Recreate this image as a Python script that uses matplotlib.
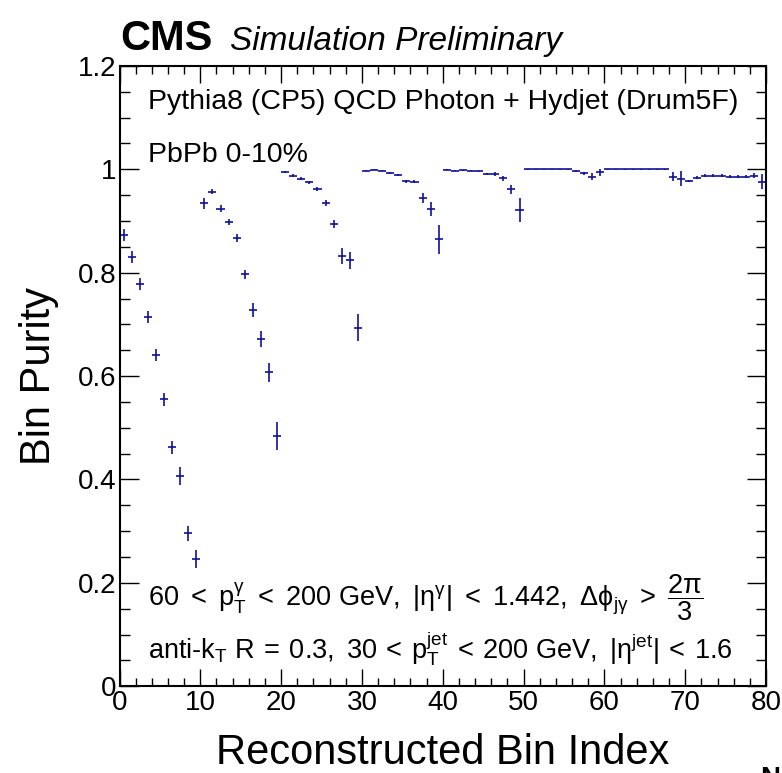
import numpy as np
import matplotlib
matplotlib.use("Agg")
import matplotlib.pyplot as plt
from matplotlib.ticker import MultipleLocator, FuncFormatter

plt.rcParams['font.family'] = ['Liberation Sans', 'DejaVu Sans']
plt.rcParams['mathtext.fontset'] = 'custom'
plt.rcParams['mathtext.rm'] = 'Liberation Sans'
plt.rcParams['mathtext.it'] = 'Liberation Sans:italic'
plt.rcParams['mathtext.bf'] = 'Liberation Sans:bold'

# reconstructed bin index (80 bins, width 1)
bin_index = np.arange(80)

purity = [
    0.873, 0.830, 0.778, 0.714, 0.641, 0.555, 0.462, 0.407, 0.296, 0.246,
    0.934, 0.957, 0.924, 0.898, 0.867, 0.797, 0.728, 0.672, 0.607, 0.485,
    0.994, 0.988, 0.982, 0.975, 0.962, 0.935, 0.894, 0.832, 0.824, 0.694,
    0.997, 0.999, 0.997, 0.992, 0.989, 0.977, 0.976, 0.944, 0.923, 0.865,
    0.999, 0.997, 0.998, 0.997, 0.996, 0.991, 0.991, 0.983, 0.961, 0.921,
    1.000, 1.000, 1.000, 1.000, 1.000, 1.000, 0.997, 0.992, 0.986, 0.994,
    1.000, 1.000, 1.000, 1.000, 1.000, 1.000, 1.000, 1.000, 0.986, 0.982,
    0.977, 0.984, 0.988, 0.988, 0.988, 0.986, 0.986, 0.986, 0.988, 0.976,
]

purity_err = [
    0.012, 0.012, 0.012, 0.011, 0.012, 0.012, 0.013, 0.018, 0.015, 0.017,
    0.010, 0.005, 0.006, 0.006, 0.007, 0.009, 0.013, 0.015, 0.019, 0.027,
    0.002, 0.002, 0.003, 0.003, 0.004, 0.006, 0.008, 0.015, 0.017, 0.026,
    0.001, 0.001, 0.001, 0.002, 0.002, 0.003, 0.003, 0.010, 0.014, 0.028,
    0.001, 0.001, 0.001, 0.001, 0.001, 0.002, 0.003, 0.005, 0.009, 0.023,
    0.0005, 0.0005, 0.0005, 0.0005, 0.0005, 0.0005, 0.002, 0.003, 0.006, 0.006,
    0.0005, 0.0005, 0.0005, 0.0005, 0.0005, 0.0005, 0.0005, 0.0005, 0.008, 0.0145,
    0.002, 0.003, 0.002, 0.002, 0.002, 0.003, 0.003, 0.003, 0.004, 0.0145,
]

W, H = 782, 773
fig = plt.figure(figsize=(W / 100, H / 100), dpi=100)
ax = fig.add_axes([119.5 / W, 1 - 686.3 / H, (766 - 119.5) / W, (686.3 - 65.9) / H])

ax.errorbar(bin_index + 0.5, purity, xerr=0.5, yerr=purity_err, fmt='none',
            ecolor='#10109a', elinewidth=1.2, capsize=0)

ax.set_xlim(0, 80)
ax.set_ylim(0, 1.2)
ax.xaxis.set_major_locator(MultipleLocator(10))
ax.xaxis.set_minor_locator(MultipleLocator(2))
ax.yaxis.set_major_locator(MultipleLocator(0.2))
ax.yaxis.set_minor_locator(MultipleLocator(0.05))
ax.yaxis.set_major_formatter(FuncFormatter(lambda v, p: '%g' % round(v, 2)))

ax.tick_params(which='both', direction='in', top=True, right=True, width=1.0, colors='black')
ax.tick_params(axis='x', which='major', length=12, labelsize=20, pad=3)
ax.tick_params(axis='x', which='minor', length=6)
ax.tick_params(axis='y', which='major', length=13.5, labelsize=20, pad=2)
ax.tick_params(axis='y', which='minor', length=7)
for s in ax.spines.values():
    s.set_linewidth(1.5)

ax.set_xlabel('Reconstructed Bin Index', fontsize=30, labelpad=12)
ax.set_ylabel('Bin Purity', fontsize=30, labelpad=14)

tx = 148 / W
fig.text(tx, 1 - 109 / H, 'Pythia8 (CP5) QCD Photon + Hydjet (Drum5F)', fontsize=20.5, va='baseline')
fig.text(tx, 1 - 162.3 / H, 'PbPb 0-10%', fontsize=20.5, va='baseline')
fig.text(tx, 1 - 606.7 / H,
         r'$\mathregular{60\ <\ p_{T}^{\gamma}\ <\ 200\ GeV,\ |\eta^{\gamma}|\ <\ 1.442,\ \Delta\phi_{j\gamma}\ >\ \dfrac{2\pi}{3}}$',
         fontsize=19.5, va='baseline')
fig.text(tx, 1 - 658 / H,
         r'$\mathregular{anti\text{-}k_{T}\ R\:=\:0.3,\ 30\:<\:p_{T}^{jet}\:<\:200\ GeV,\ |\eta^{jet}|\:<\:1.6}$',
         fontsize=19.5, va='baseline')

fig.text(120 / W, 1 - 50 / H, 'CMS', fontsize=30, fontweight='bold', va='baseline')
fig.text(230 / W, 1 - 50 / H, 'Simulation Preliminary', fontsize=24, style='italic', va='baseline')
fig.text(760 / W, 1 - 766 / H, 'N', fontsize=20, fontweight='bold', va='top')

fig.savefig('out.png', dpi=100)
